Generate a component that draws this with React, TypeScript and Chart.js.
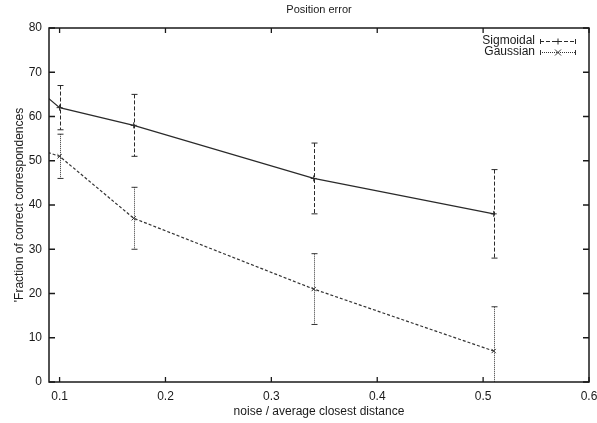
import React, { useEffect, useRef } from "react";
import { Chart, registerables } from "chart.js";

Chart.register(...registerables);

const TITLE = "Position error";
const X_LABEL = "noise / average closest distance";
const Y_LABEL = "'Fraction of correct correspondences";

const NOISE = [0.1, 0.17, 0.34, 0.51];
const LEAD_X = 0.08;

const SIGMOIDAL_LEAD = 66;
const SIGMOIDAL = [62, 58, 46, 38];
const SIGMOIDAL_LOW = [57, 51, 38, 28];
const SIGMOIDAL_HIGH = [67, 65, 54, 48];

const GAUSSIAN_LEAD = 52.6;
const GAUSSIAN = [51, 37, 21, 7];
const GAUSSIAN_LOW = [46, 30, 13, -3];
const GAUSSIAN_HIGH = [56, 44, 29, 17];

const X_TICKS = [0.1, 0.2, 0.3, 0.4, 0.5, 0.6];
const Y_TICKS = [0, 10, 20, 30, 40, 50, 60, 70, 80];

const FONT = "'Liberation Sans', Arial, Helvetica, sans-serif";
const INK = "#1a1a1a";

const SERIES = [
  {
    name: "Sigmoidal",
    lead: SIGMOIDAL_LEAD,
    values: SIGMOIDAL,
    low: SIGMOIDAL_LOW,
    high: SIGMOIDAL_HIGH,
    lineDash: [] as number[],
    barDash: [4, 2],
    marker: "cross",
    color: "#2a2a2a",
  },
  {
    name: "Gaussian",
    lead: GAUSSIAN_LEAD,
    values: GAUSSIAN,
    low: GAUSSIAN_LOW,
    high: GAUSSIAN_HIGH,
    lineDash: [3, 2],
    barDash: [1, 1],
    marker: "crossRot",
    color: "#333333",
  },
];

function drawMarker(ctx: CanvasRenderingContext2D, kind: string, x: number, y: number, r: number) {
  ctx.beginPath();
  if (kind === "cross") {
    ctx.moveTo(x - r, y);
    ctx.lineTo(x + r, y);
    ctx.moveTo(x, y - r);
    ctx.lineTo(x, y + r);
  } else {
    ctx.moveTo(x - r, y - r);
    ctx.lineTo(x + r, y + r);
    ctx.moveTo(x - r, y + r);
    ctx.lineTo(x + r, y - r);
  }
  ctx.stroke();
}

const decorPlugin = {
  id: "decor",
  afterDatasetsDraw(chart: any) {
    const { ctx, chartArea, scales } = chart;
    const xs = scales.x;
    const ys = scales.y;
    const { left, right, top, bottom } = chartArea;

    // error bars
    ctx.save();
    ctx.beginPath();
    ctx.rect(left, top, right - left, bottom - top);
    ctx.clip();
    SERIES.forEach((s) => {
      ctx.strokeStyle = s.color;
      ctx.lineWidth = 1;
      NOISE.forEach((xv, i) => {
        const px = Math.round(xs.getPixelForValue(xv)) + 0.5;
        const yl = ys.getPixelForValue(s.low[i]);
        const yh = ys.getPixelForValue(s.high[i]);
        ctx.setLineDash(s.barDash);
        ctx.beginPath();
        ctx.moveTo(px, yh);
        ctx.lineTo(px, yl);
        ctx.stroke();
        ctx.setLineDash([]);
        ctx.beginPath();
        ctx.moveTo(px - 3, yh);
        ctx.lineTo(px + 3, yh);
        ctx.moveTo(px - 3, yl);
        ctx.lineTo(px + 3, yl);
        ctx.stroke();
      });
    });
    ctx.restore();

    // frame
    ctx.save();
    ctx.strokeStyle = INK;
    ctx.lineWidth = 1.5;
    ctx.strokeRect(left, top, right - left, bottom - top);

    // inward ticks
    ctx.lineWidth = 1.3;
    ctx.beginPath();
    X_TICKS.forEach((v) => {
      const px = xs.getPixelForValue(v);
      ctx.moveTo(px, bottom);
      ctx.lineTo(px, bottom - 5);
      ctx.moveTo(px, top);
      ctx.lineTo(px, top + 5);
    });
    Y_TICKS.forEach((v) => {
      const py = ys.getPixelForValue(v);
      ctx.moveTo(left, py);
      ctx.lineTo(left + 6, py);
      ctx.moveTo(right, py);
      ctx.lineTo(right - 6, py);
    });
    ctx.stroke();

    // title
    ctx.fillStyle = INK;
    ctx.font = `11px ${FONT}`;
    ctx.textAlign = "center";
    ctx.textBaseline = "middle";
    ctx.fillText(TITLE, (left + right) / 2, 10);

    // legend
    ctx.font = `12px ${FONT}`;
    ctx.textAlign = "right";
    SERIES.forEach((s, i) => {
      const ly = top + 13 + i * 11;
      ctx.fillStyle = INK;
      ctx.fillText(s.name, right - 54, ly);
      const x0 = right - 49;
      const x1 = right - 13;
      ctx.strokeStyle = s.color;
      ctx.lineWidth = 1;
      ctx.setLineDash(s.barDash);
      ctx.beginPath();
      ctx.moveTo(x0, ly + 0.5);
      ctx.lineTo(x1, ly + 0.5);
      ctx.stroke();
      ctx.setLineDash([]);
      ctx.beginPath();
      ctx.moveTo(x0 + 0.5, ly - 2);
      ctx.lineTo(x0 + 0.5, ly + 3);
      ctx.moveTo(x1 - 0.5, ly - 2);
      ctx.lineTo(x1 - 0.5, ly + 3);
      ctx.stroke();
      drawMarker(ctx, s.marker, (x0 + x1) / 2, ly + 0.5, 3);
    });
    ctx.restore();
  },
};

export default function App() {
  const ref = useRef<HTMLCanvasElement | null>(null);

  useEffect(() => {
    if (!ref.current) return;
    const datasets = SERIES.map((s) => ({
      label: s.name,
      data: [{ x: LEAD_X, y: s.lead }, ...NOISE.map((x, i) => ({ x, y: s.values[i] }))],
      borderColor: s.color,
      borderWidth: 1.2,
      borderDash: s.lineDash,
      pointStyle: s.marker,
      pointRadius: (c: any) => (c.dataIndex === 0 ? 0 : 3),
      pointBorderColor: s.color,
      pointBorderWidth: 1,
      pointBackgroundColor: "transparent",
      fill: false,
      tension: 0,
    }));

    const chart = new Chart(ref.current, {
      type: "line",
      data: { datasets } as any,
      options: {
        responsive: false,
        animation: false,
        events: [],
        layout: { padding: { top: 28, right: 0, left: 0, bottom: 0 } },
        plugins: {
          legend: { display: false },
          title: { display: false },
          tooltip: { enabled: false },
        },
        scales: {
          x: {
            type: "linear",
            min: 0.09,
            max: 0.6,
            afterBuildTicks: (s: any) => {
              s.ticks = X_TICKS.map((v) => ({ value: v }));
            },
            afterFit: (s: any) => {
              s.height = 41;
              s.paddingRight = 8;
            },
            grid: { display: false, drawTicks: false },
            border: { display: false },
            ticks: {
              padding: 7,
              color: INK,
              font: { family: FONT, size: 12 },
              maxRotation: 0,
              autoSkip: false,
              callback: (v: any) => Number(v).toFixed(1),
            },
            title: {
              display: true,
              text: X_LABEL,
              color: INK,
              font: { family: FONT, size: 12 },
              padding: { top: 0, bottom: 4 },
            },
          },
          y: {
            type: "linear",
            min: 0,
            max: 80,
            afterBuildTicks: (s: any) => {
              s.ticks = Y_TICKS.map((v) => ({ value: v }));
            },
            afterFit: (s: any) => {
              s.width = 49;
            },
            grid: { display: false, drawTicks: false },
            border: { display: false },
            ticks: {
              padding: 7,
              color: INK,
              font: { family: FONT, size: 12 },
              autoSkip: false,
              callback: (v: any) => String(v),
            },
            title: {
              display: true,
              text: Y_LABEL,
              color: INK,
              font: { family: FONT, size: 12 },
              padding: { top: 12, bottom: 0 },
            },
          },
        },
      } as any,
      plugins: [decorPlugin],
    });
    return () => chart.destroy();
  }, []);

  return (
    <div style={{ position: "fixed", left: 0, top: 0, width: 597, height: 423, background: "#fff" }}>
      <canvas ref={ref} width={597} height={423} style={{ display: "block" }} />
    </div>
  );
}
